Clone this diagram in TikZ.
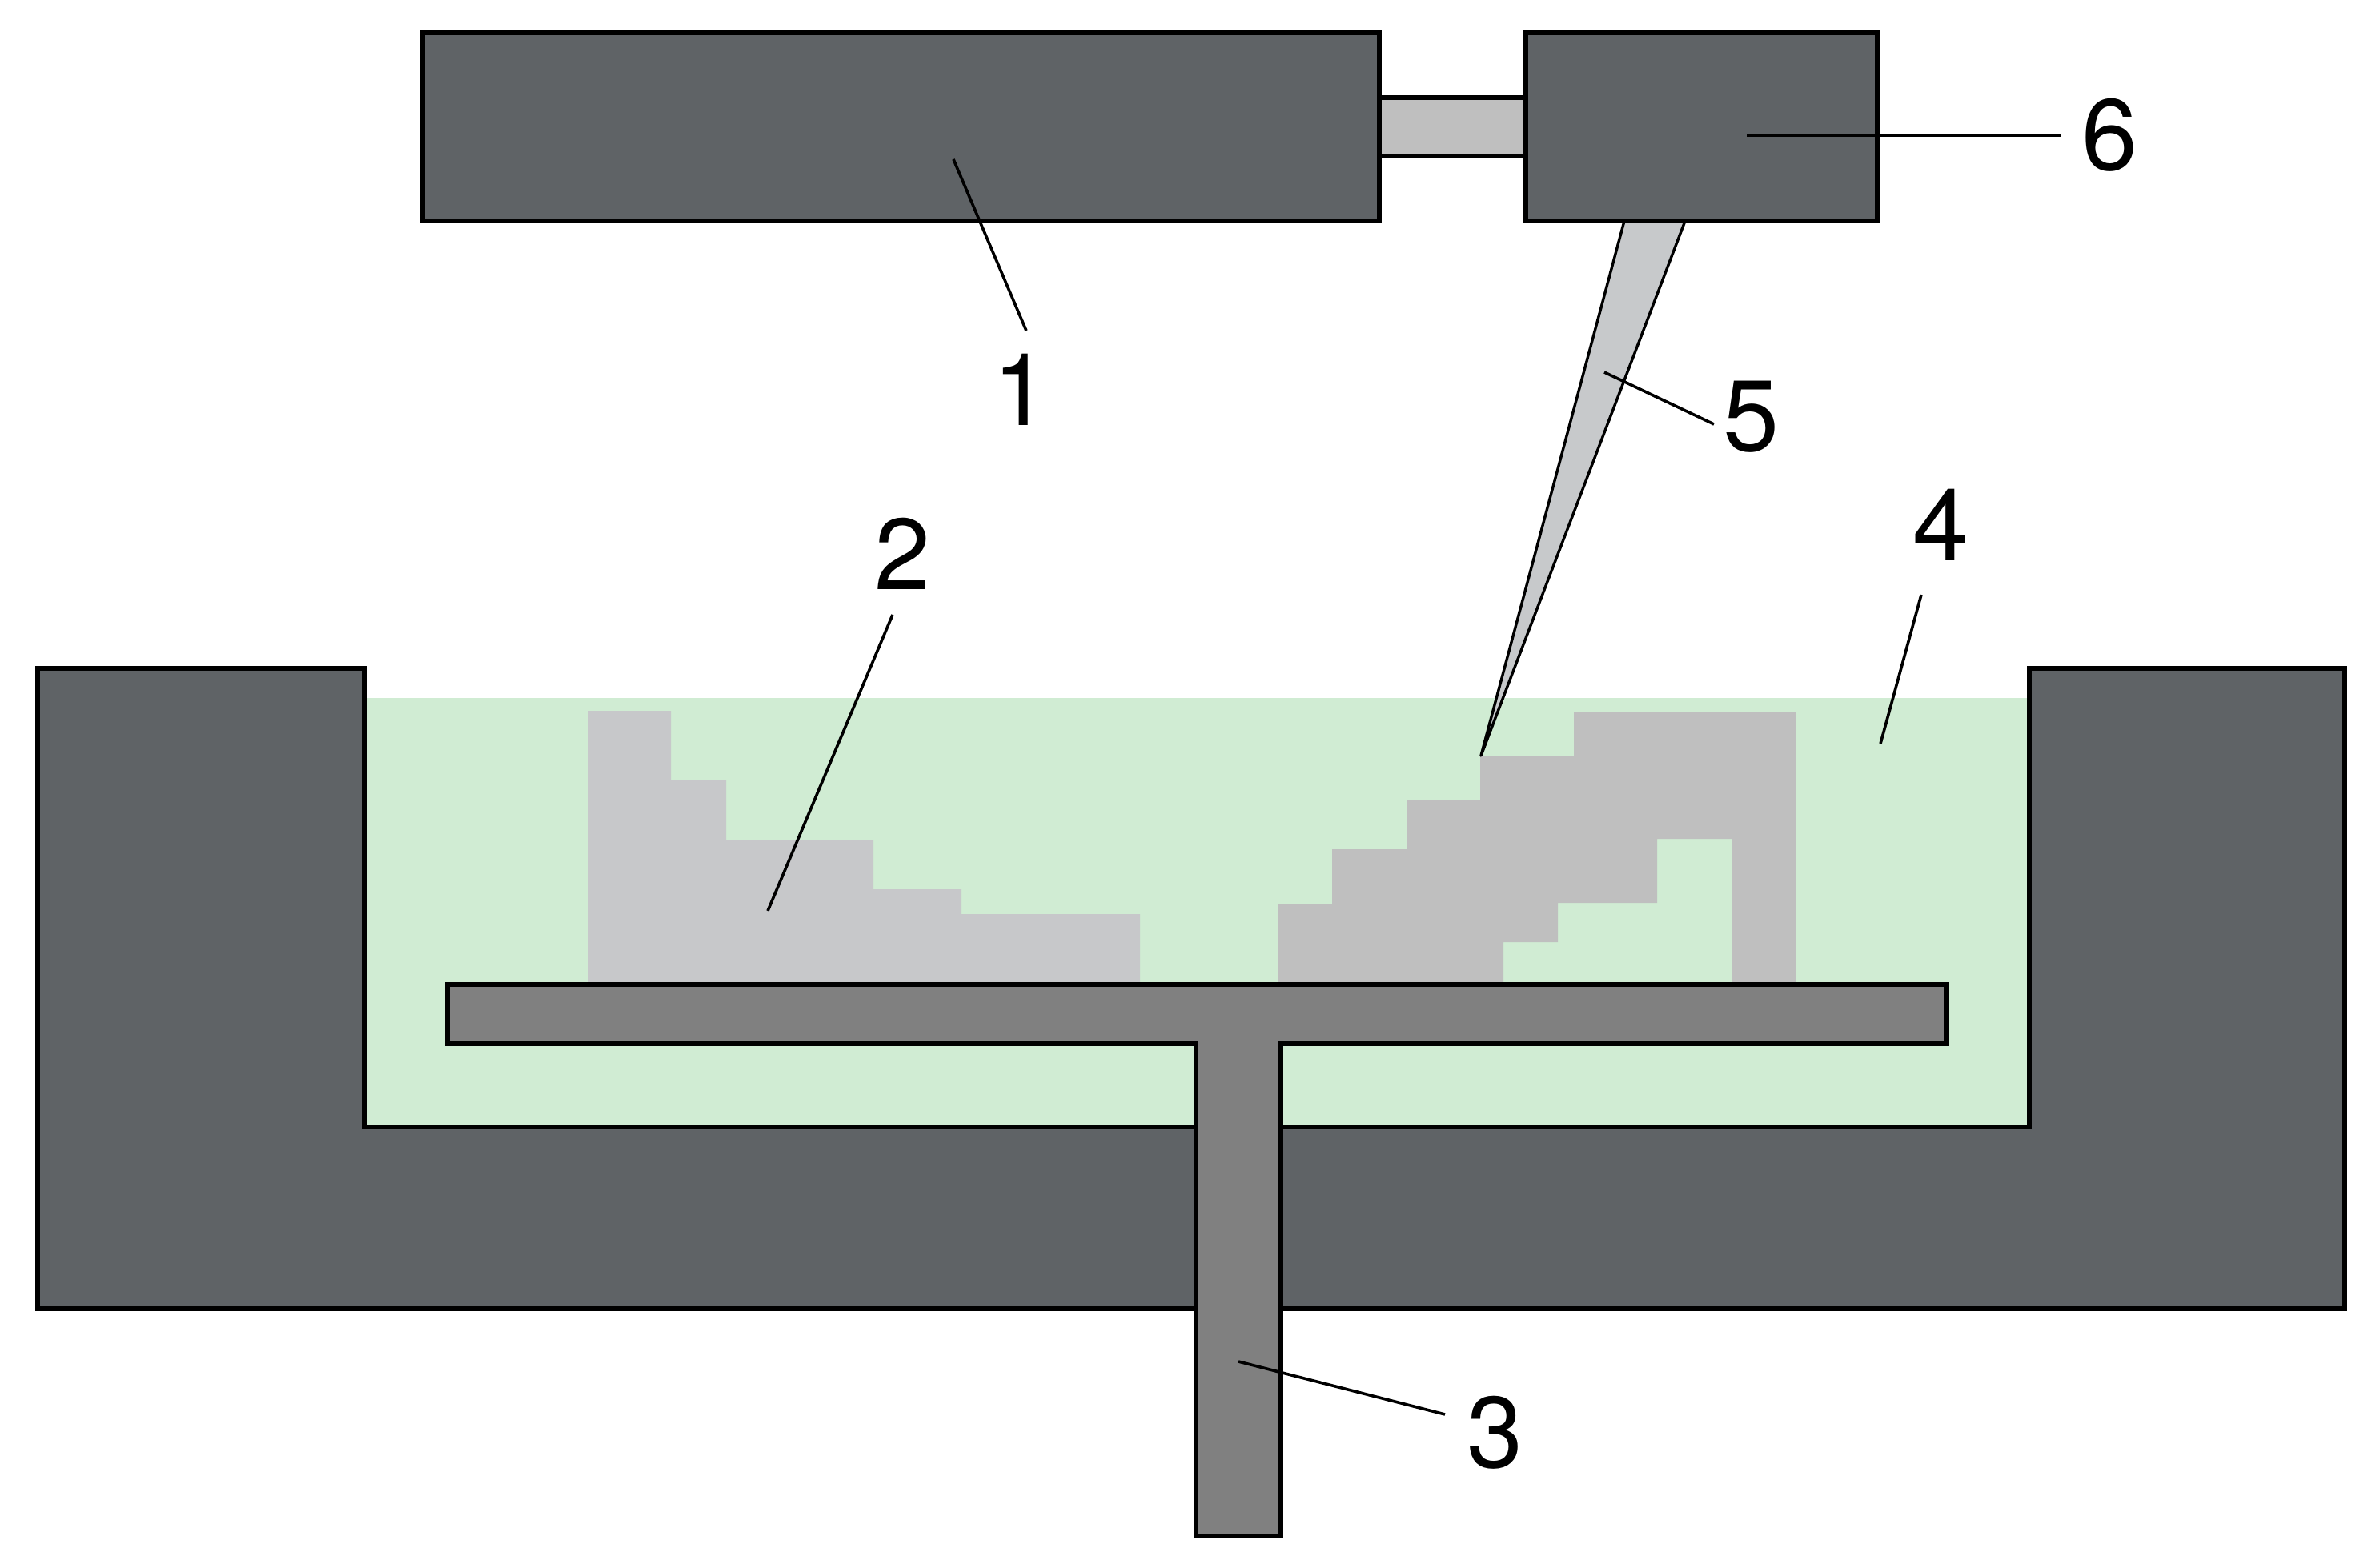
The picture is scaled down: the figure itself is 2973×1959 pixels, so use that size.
\documentclass[tikz,border=0pt]{standalone}
\usepackage{fontspec}
\setmainfont{TeX Gyre Heros}
\definecolor{vatgrey}{HTML}{5F6366}
\definecolor{resin}{HTML}{D0ECD3}
\definecolor{partA}{HTML}{C7C8CA}
\definecolor{partB}{HTML}{BFBFBF}
\definecolor{plat}{HTML}{808080}
\definecolor{beam}{HTML}{C7C9CB}
\tikzset{
  outlined/.style={draw=black,line width=2.6pt,line join=miter},
  leader/.style={draw=black,line width=1.8pt},
  num/.style={font=\fontsize{63}{63}\selectfont,inner sep=0pt,text=black}
}
\begin{document}
\begin{tikzpicture}[x=0.5pt,y=-0.5pt]
\useasboundingbox (0,0) rectangle (2973,1959);
% resin
\fill[resin] (455,872) rectangle (2535,1408);
% built parts
\fill[partA] (735,888) -| (838,975) -| (907,1049) -| (1091,1111) -| (1201,1142) -| (1424,1230) -| cycle;
\fill[partB] (1597,1230) |- (1664,1129) |- (1757,1061) |- (1849,1000) |- (1966,944) |- (2243,889) |- (2163,1230) |- (2070,1048) |- (1946,1128) |- (1878,1177) -- (1878,1230) -- cycle;
% vat
\path[outlined,fill=vatgrey] (47,835) -- (455,835) -- (455,1408) -- (2535,1408) -- (2535,835) -- (2929,835) -- (2929,1635) -- (47,1635) -- cycle;
% platform
\path[outlined,fill=plat] (559,1230) -- (2431,1230) -- (2431,1304) -- (1600,1304) -- (1600,1919) -- (1494,1919) -- (1494,1304) -- (559,1304) -- cycle;
% optics
\path[outlined,fill=partB] (1700,122) rectangle (1920,195);
\path[outlined,fill=vatgrey] (528,41) rectangle (1723,276);
\path[draw=black,line width=1.7pt,fill=beam,line join=round] (2029,276) -- (2105,276) -- (1850,944) -- cycle;
\path[outlined,fill=vatgrey] (1906,41) rectangle (2345,276);
% labels
\node[num] (n1) at (1276,487) {1};
\node[num] (n2) at (1128,692) {2};
\node[num] (n3) at (1868,1790) {3};
\node[num] (n4) at (2425,656) {4};
\node[num] (n5) at (2188,521) {5};
\node[num] (n6) at (2636,169) {6};
% leader ends
\coordinate (a1) at (1191,199); \coordinate (b1) at (1282,413);
\coordinate (a2) at (959,1138); \coordinate (b2) at (1115,768);
\coordinate (a3) at (1547,1701); \coordinate (b3) at (1805,1767);
\coordinate (a4) at (2349,929); \coordinate (b4) at (2400,743);
\coordinate (a5) at (2004,465); \coordinate (b5) at (2141,530);
\coordinate (a6) at (2182,169); \coordinate (b6) at (2575,169);
\foreach \k in {1,...,6} \draw[leader] (a\k) -- (b\k);
\end{tikzpicture}
\end{document}
